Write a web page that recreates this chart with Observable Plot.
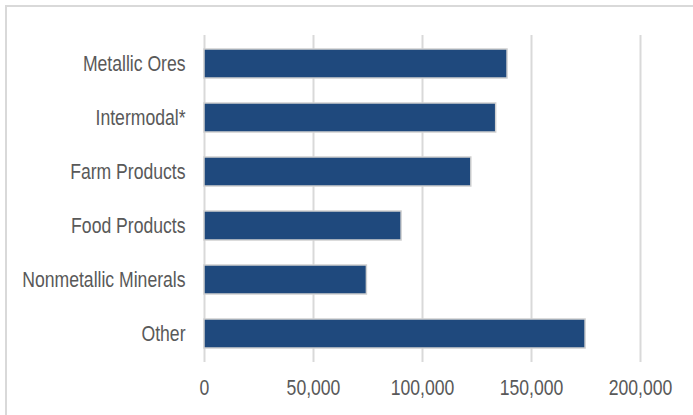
<!DOCTYPE html>
<html>
<head>
<meta charset="utf-8">
<script src="https://cdn.jsdelivr.net/npm/d3@7"></script>
<script src="https://cdn.jsdelivr.net/npm/@observablehq/plot@0.6"></script>
<style>
  html, body { margin: 0; padding: 0; background: #fff; overflow: hidden; }
  #wrap { position: relative; width: 693px; height: 415px; }
  #frame { position: absolute; left: 5px; top: 5px; width: 720px; height: 440px;
           border-left: 2px solid #d9d9d9; border-top: 2px solid #d9d9d9; box-sizing: border-box; pointer-events: none; }
  #chart { position: absolute; left: 0; top: 0; }
</style>
</head>
<body>
<div id="wrap"><div id="chart"></div><div id="frame"></div></div>
<script>
const categories = ["Metallic Ores", "Intermodal*", "Farm Products", "Food Products", "Nonmetallic Minerals", "Other"];
const values = [139000, 133800, 122400, 90400, 74500, 174800];
const xTicks = [0, 50000, 100000, 150000, 200000];

const data = categories.map((c, i) => ({category: c, value: values[i]}));
const fmt = d3.format(",");

const chart = Plot.plot({
  width: 693,
  height: 415,
  marginLeft: 204,
  marginRight: 53,
  marginTop: 35,
  marginBottom: 53,
  style: {
    fontFamily: "'Liberation Sans', Arial, sans-serif",
    fontSize: "22px",
    color: "#595959",
    background: "transparent"
  },
  x: {domain: [0, 200000], ticks: xTicks, tickFormat: fmt},
  y: {domain: categories, paddingInner: 0.46, paddingOuter: 0.226},
  marks: [
    Plot.gridX(xTicks, {stroke: "#d9d9d9", strokeOpacity: 1, strokeWidth: 2}),
    Plot.barX(data, {x: "value", y: "category", fill: "#1f497d", stroke: "#d0d0d0", strokeWidth: 1.5}),
    Plot.axisX(xTicks, {tickSize: 0, tickPadding: 17, tickFormat: fmt, label: null, fill: "#595959"}),
    Plot.axisY({tickSize: 0, tickPadding: 19, label: null, fill: "#595959"})
  ]
});
document.getElementById("chart").appendChild(chart);

// Narrow the text horizontally around its anchor to mimic a condensed face
const S = 0.8;
chart.querySelectorAll("text").forEach(t => {
  try {
    const base = t.transform.baseVal;
    const c = base.numberOfItems ? base.consolidate() : null;
    const m = c ? c.matrix : {a: 1, b: 0, c: 0, d: 1, e: 0, f: 0};
    const x = t.x.baseVal.numberOfItems ? t.x.baseVal.getItem(0).value : 0;
    const k = x * (1 - S);
    const nm = [m.a * S, m.b * S, m.c, m.d, m.a * k + m.e, m.b * k + m.f];
    if (nm.every(Number.isFinite)) t.setAttribute("transform", `matrix(${nm.join(",")})`);
  } catch (e) {}
});
</script>
</body>
</html>
